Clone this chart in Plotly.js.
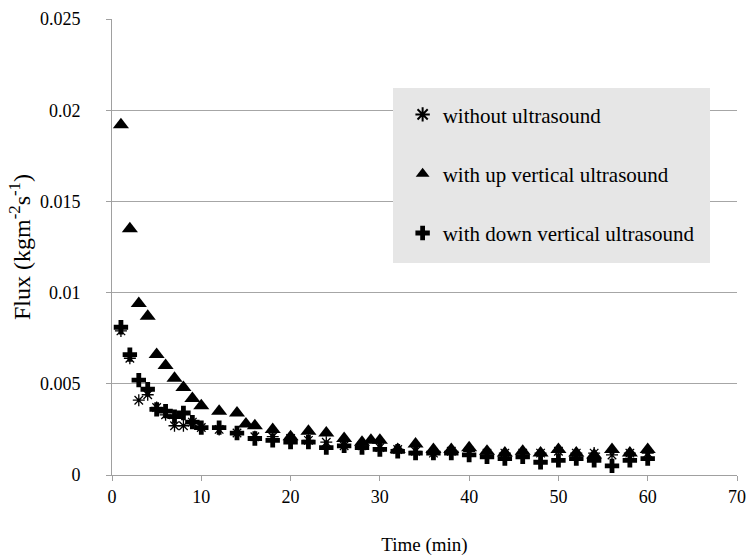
<!DOCTYPE html>
<html>
<head>
<meta charset="utf-8">
<script src="https://cdn.plot.ly/plotly-3.0.1.min.js"></script>
<style>html,body{margin:0;padding:0;background:#fff;}#chart{width:750px;height:560px;}</style>
</head>
<body>
<div id="chart"></div>
<script>
// Time (min) for each series
const timeWithout = [1,2,3,4,5,6,7,8,9,10,12,14,16,18,20,22,24,26,28,30,32,34,36,38,40,42,44,46,48,50,52,54,56,58,60];
const fluxWithout = [0.0079,0.0064,0.0041,0.0044,0.0037,0.0033,0.0027,0.0027,0.0029,0.0026,0.0025,0.0023,0.0021,0.0021,0.0020,0.0019,0.0018,0.0016,0.0016,0.0015,0.0014,0.0013,0.0012,0.0013,0.0013,0.0012,0.0012,0.0012,0.0012,0.0013,0.0012,0.0012,0.0011,0.0012,0.0012];

const timeUp = [1,2,3,4,5,6,7,8,9,10,12,14,15,16,18,20,22,24,26,28,29,30,32,34,36,38,40,42,44,46,48,50,52,54,56,58,60];
const fluxUp = [0.0192,0.0135,0.0094,0.0087,0.0066,0.0060,0.0053,0.0048,0.0042,0.0038,0.0035,0.0034,0.0028,0.0027,0.0025,0.0021,0.0024,0.0023,0.0020,0.0018,0.0019,0.0019,0.0014,0.0017,0.0014,0.0014,0.0015,0.0013,0.0012,0.0013,0.0012,0.0014,0.0012,0.0011,0.0014,0.0012,0.0014];

const timeDown = [1,2,3,4,5,6,7,8,9,10,12,14,16,18,20,22,24,26,28,30,32,34,36,38,40,42,44,46,48,50,52,54,56,58,60];
const fluxDown = [0.0081,0.0066,0.0052,0.0047,0.0036,0.0035,0.0032,0.0034,0.0029,0.0026,0.0026,0.0023,0.0020,0.0019,0.0018,0.0018,0.0015,0.0016,0.0015,0.0014,0.0013,0.0012,0.0012,0.0012,0.0011,0.0010,0.0009,0.0010,0.0007,0.0008,0.0009,0.0008,0.0005,0.0008,0.0009];

const seriesNames = ["without ultrasound","with up vertical ultrasound","with down vertical ultrasound"];
const xTicks = [0,10,20,30,40,50,60,70];
const yTicks = [0,0.005,0.01,0.015,0.02,0.025];
const yTickText = ["0","0.005","0.01","0.015","0.02","0.025"];

const serif = "'Liberation Serif', 'Times New Roman', serif";

const traces = [
  {x: timeWithout, y: fluxWithout, name: seriesNames[0], type: "scatter", mode: "markers", legendgroup: "a",
   marker: {symbol: "asterisk-open", size: 10, color: "#000", line: {color: "#000", width: 1.3}}},
  {x: timeUp, y: fluxUp, name: seriesNames[1], type: "scatter", mode: "markers", legendgroup: "b",
   marker: {symbol: "triangle-up", size: 14, color: "#000"}},
  {x: timeDown, y: fluxDown, name: seriesNames[2], type: "scatter", mode: "markers", legendgroup: "c",
   marker: {symbol: "cross", size: 12, color: "#000"}}
];

const layout = {
  width: 750, height: 560,
  margin: {l: 112, r: 13, t: 19, b: 85},
  paper_bgcolor: "#fff", plot_bgcolor: "#fff",
  font: {family: serif, size: 18, color: "#000"},
  showlegend: true,
  legend: {
    x: 0.465, y: 0.835, xanchor: "left", yanchor: "top",
    bgcolor: "rgba(0,0,0,0)", borderwidth: 0,
    traceorder: "grouped", tracegroupgap: 29,
    font: {family: serif, size: 21, color: "#000"},
    itemsizing: "constant"
  },
  shapes: [{
    type: "rect", xref: "paper", yref: "paper",
    x0: 0.4496, x1: 0.9568, y0: 0.4649, y1: 0.8487,
    fillcolor: "#e6e6e6", line: {width: 0}, layer: "above"
  }],
  xaxis: {
    range: [0, 70], tickvals: xTicks, ticktext: xTicks.map(String),
    showgrid: false, zeroline: false,
    showline: true, linecolor: "#a0a0a0", linewidth: 1,
    ticks: "outside", ticklen: 5, tickcolor: "#a0a0a0",
    tickfont: {family: serif, size: 18, color: "#000"},
    title: {text: "Time (min)", font: {family: serif, size: 19, color: "#000"}, standoff: 32}
  },
  yaxis: {
    range: [0, 0.025], tickvals: yTicks, ticktext: yTickText,
    showgrid: true, gridcolor: "#a6a6a6", gridwidth: 1, zeroline: false,
    showline: true, linecolor: "#a0a0a0", linewidth: 1,
    ticks: "outside", ticklen: 5, tickcolor: "#a0a0a0",
    ticklabelstandoff: 22,
    tickfont: {family: serif, size: 18, color: "#000"},
    title: {text: "Flux (kgm<sup>-2</sup>s<sup>-1</sup>)", font: {family: serif, size: 24, color: "#000"}, standoff: 2}
  }
};

Plotly.newPlot("chart", traces, layout, {displayModeBar: false, staticPlot: true});
</script>
</body>
</html>
